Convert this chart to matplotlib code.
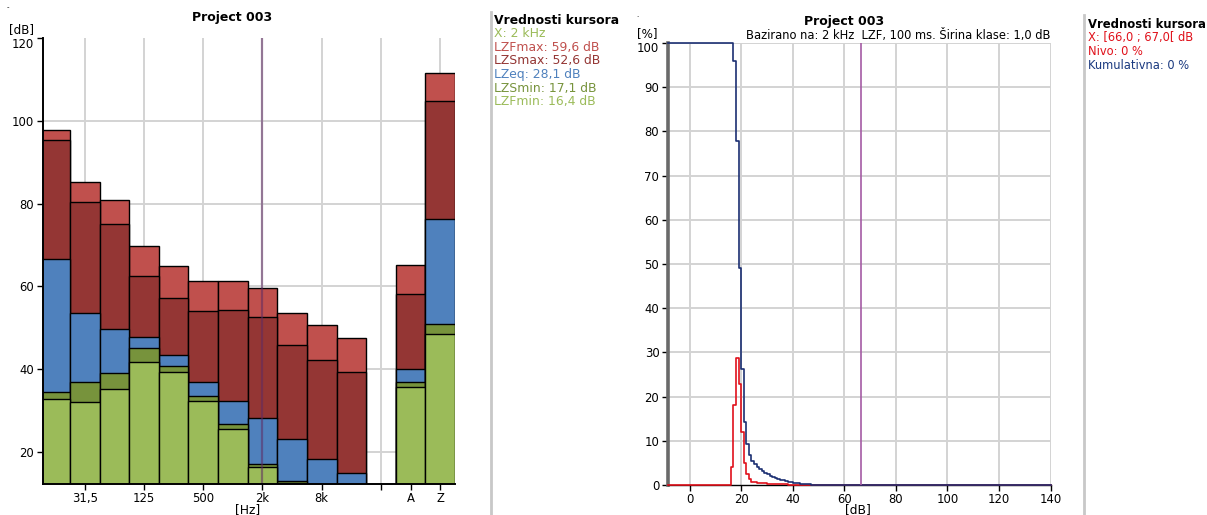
import numpy as np
import matplotlib
matplotlib.use("Agg")
import matplotlib.pyplot as plt
from matplotlib.transforms import ScaledTranslation

plt.rcParams["font.family"] = ["DejaVu Sans"]

# left chart: octave bands + A / Z totals, levels in dB
bands = ["16", "31,5", "63", "125", "250", "500", "1k", "2k", "4k", "8k", "16k", "A", "Z"]
lzf_max = [97.8, 85.3, 80.8, 69.7, 64.9, 61.2, 61.4, 59.6, 53.5, 50.6, 47.6, 65.2, 111.7]
lzs_max = [95.3, 80.5, 75.2, 62.6, 57.3, 54.0, 54.3, 52.6, 45.8, 42.2, 39.4, 58.2, 104.9]
lz_eq = [66.7, 53.6, 49.8, 47.7, 43.3, 36.8, 32.3, 28.1, 23.1, 18.3, 14.8, 40.0, 76.4]
lzs_min = [34.4, 36.8, 39.0, 45.2, 40.7, 33.5, 26.6, 17.1, 12.9, 11.5, 10.5, 36.8, 50.9]
lzf_min = [32.8, 32.1, 35.2, 41.6, 39.2, 32.2, 25.6, 16.4, 12.4, 11.0, 10.0, 35.6, 48.4]

series = [lzf_max, lzs_max, lz_eq, lzs_min, lzf_min]
series_colors = ["#C0504D", "#943634", "#4F81BD", "#77933C", "#9BBB59"]

tick_bands = ["31,5", "125", "500", "2k", "8k", "", "A", "Z"]
cursor_band = "2k"

# right chart: level distribution, 1 dB classes starting at 16 dB
class_start = 16
nivo = [4.0, 18.1, 28.8, 22.9, 12.0, 4.9, 2.6, 1.3, 0.7, 0.6, 0.5, 0.45, 0.4,
        0.35, 0.3, 0.27, 0.24, 0.21, 0.19, 0.17, 0.15, 0.13, 0.11, 0.1, 0.09,
        0.08, 0.07, 0.06, 0.05, 0.04, 0.03, 0.03, 0.02, 0.02, 0.01, 0.01, 0.0]
kumulativna = [100.0, 96.0, 77.9, 49.1, 26.2, 14.2, 9.3, 6.7, 5.4, 4.7, 4.1,
               3.6, 3.15, 2.75, 2.4, 2.1, 1.83, 1.59, 1.38, 1.19, 1.02, 0.87,
               0.74, 0.63, 0.53, 0.44, 0.36, 0.29, 0.23, 0.18, 0.14, 0.11,
               0.08, 0.06, 0.04, 0.02, 0.0]
cursor_db = 66.5

W, H = 1207, 515
fig = plt.figure(figsize=(W / 100, H / 100), dpi=100)


def px(x, y):
    return x / W, 1 - y / H


grid_c = "#D3D3D3"
tick_fs = 8.4
# the top tick label sits a little below its tick in the original
shift_down = ScaledTranslation(0, -0.045, fig.dpi_scale_trans)

# ---------------- left chart ----------------
ax1 = fig.add_axes([42.7 / W, 1 - 484 / H, (455 - 42.7) / W, (484 - 38.3) / H])
pos = np.r_[np.arange(11), 12, 13]
for vals, col, z in zip(series, series_colors, range(len(series))):
    ax1.bar(pos, vals, width=1.0, color=col, edgecolor="black", linewidth=1.0, zorder=3 + z)

ax1.set_xlim(-0.42, 13.5)
ax1.set_ylim(12.2, 120)
tick_pos = [1, 3, 5, 7, 9, 11, 12, 13]
for y in [20, 40, 60, 80, 100]:
    ax1.axhline(y, color=grid_c, lw=1.4, zorder=1)
for x in [1, 3, 5, 7, 9, 11, 13]:
    ax1.axvline(x, color=grid_c, lw=1.4, zorder=1)
ax1.axvline(pos[bands.index(cursor_band)], color="#5E2A62", alpha=0.55, lw=1.6, zorder=10)

ax1.set_xticks(tick_pos)
ax1.set_xticklabels(tick_bands)
ax1.set_yticks([20, 40, 60, 80, 100, 120])
ax1.tick_params(labelsize=tick_fs, length=4, width=1, pad=2)
top_lbl = ax1.get_yticklabels()[-1]
top_lbl.set_transform(top_lbl.get_transform() + shift_down)
for s in ["top", "right"]:
    ax1.spines[s].set_visible(False)
for s in ["left", "bottom"]:
    ax1.spines[s].set_linewidth(1.4)
    ax1.spines[s].set_zorder(12)

fig.text(*px(232, 18), "Project 003", ha="center", va="center", fontsize=9, fontweight="bold")
fig.text(*px(22, 29.5), "[dB]", ha="center", va="center", fontsize=8.6)
fig.text(*px(248, 510), "[Hz]", ha="center", va="center", fontsize=8.8)
fig.text(*px(8, 7), "-", ha="center", va="center", fontsize=5)

# left cursor panel
fig.add_artist(plt.Line2D([491 / W, 491 / W], [0, 1 - 12 / H], color="#C8C8C8", lw=2))
fig.text(*px(494.5, 20), "Vrednosti kursora", ha="left", va="center", fontsize=8.9, fontweight="bold")
idx = bands.index(cursor_band)
legend_lines = [("X: 2 kHz", "#9BBB59")]
for name, vals, col in zip(["LZFmax", "LZSmax", "LZeq", "LZSmin", "LZFmin"], series, series_colors):
    legend_lines.append((f"{name}: {vals[idx]:.1f} dB".replace(".", ","), col))
for i, (txt, col) in enumerate(legend_lines):
    fig.text(*px(494.5, 33.5 + i * 13.65), txt, ha="left", va="center", fontsize=8.9, color=col)

# ---------------- right chart ----------------
ax2 = fig.add_axes([667.7 / W, 1 - 485 / H, (1050.5 - 667.7) / W, (485 - 43) / H])
ax2.set_xlim(-8.5, 140)
ax2.set_ylim(0, 100)
for x in range(0, 141, 20):
    ax2.axvline(x, color=grid_c, lw=1.4, zorder=1)
for y in range(10, 101, 10):
    ax2.axhline(y, color=grid_c, lw=1.4, zorder=1)

edges = class_start + np.arange(len(nivo) + 1)
x0, x1 = ax2.get_xlim()
xs = np.r_[x0, edges, x1]
ax2.step(xs, np.r_[0, nivo, 0, 0], where="post", color="#E0111B", lw=1.2, zorder=4, clip_on=False)
ax2.step(xs, np.r_[100, kumulativna, 0, 0], where="post", color="#1B2F72", lw=1.2, zorder=5, clip_on=False)
ax2.axvline(cursor_db, color="#A45BA4", lw=1.2, zorder=6)

ax2.set_xticks(range(0, 141, 20))
ax2.set_yticks(range(0, 101, 10))
ax2.tick_params(labelsize=tick_fs, length=4, width=1, pad=2)
top_lbl = ax2.get_yticklabels()[-1]
top_lbl.set_transform(top_lbl.get_transform() + shift_down)
for s in ["top", "right"]:
    ax2.spines[s].set_visible(False)
ax2.spines["left"].set_color("#6A6A6A")
ax2.spines["left"].set_linewidth(2.6)
ax2.spines["bottom"].set_linewidth(1.0)
ax2.spines["bottom"].set_zorder(3)

fig.text(*px(844, 22), "Project 003", ha="center", va="center", fontsize=9, fontweight="bold")
fig.text(*px(1050.5, 35.5), "Bazirano na: 2 kHz  LZF, 100 ms. Širina klase: 1,0 dB",
         ha="right", va="center", fontsize=8.3)
fig.text(*px(647.5, 34), "[%]", ha="center", va="center", fontsize=8.6)
fig.text(*px(858, 510), "[dB]", ha="center", va="center", fontsize=8.8)
fig.text(*px(637, 15), ".", ha="center", va="center", fontsize=5)

# right cursor panel
fig.add_artist(plt.Line2D([1084 / W, 1084 / W], [0, 1 - 15 / H], color="#C8C8C8", lw=2))
fig.text(*px(1087.5, 24), "Vrednosti kursora", ha="left", va="center", fontsize=8.4, fontweight="bold")
right_lines = [
    ("X: [66,0 ; 67,0[ dB", "#E0111B"),
    ("Nivo: 0 %", "#E0111B"),
    ("Kumulativna: 0 %", "#1B3A80"),
]
for i, (txt, col) in enumerate(right_lines):
    fig.text(*px(1087.5, 38 + i * 13.7), txt, ha="left", va="center", fontsize=8.3, color=col)

fig.savefig("out.png", dpi=100)
